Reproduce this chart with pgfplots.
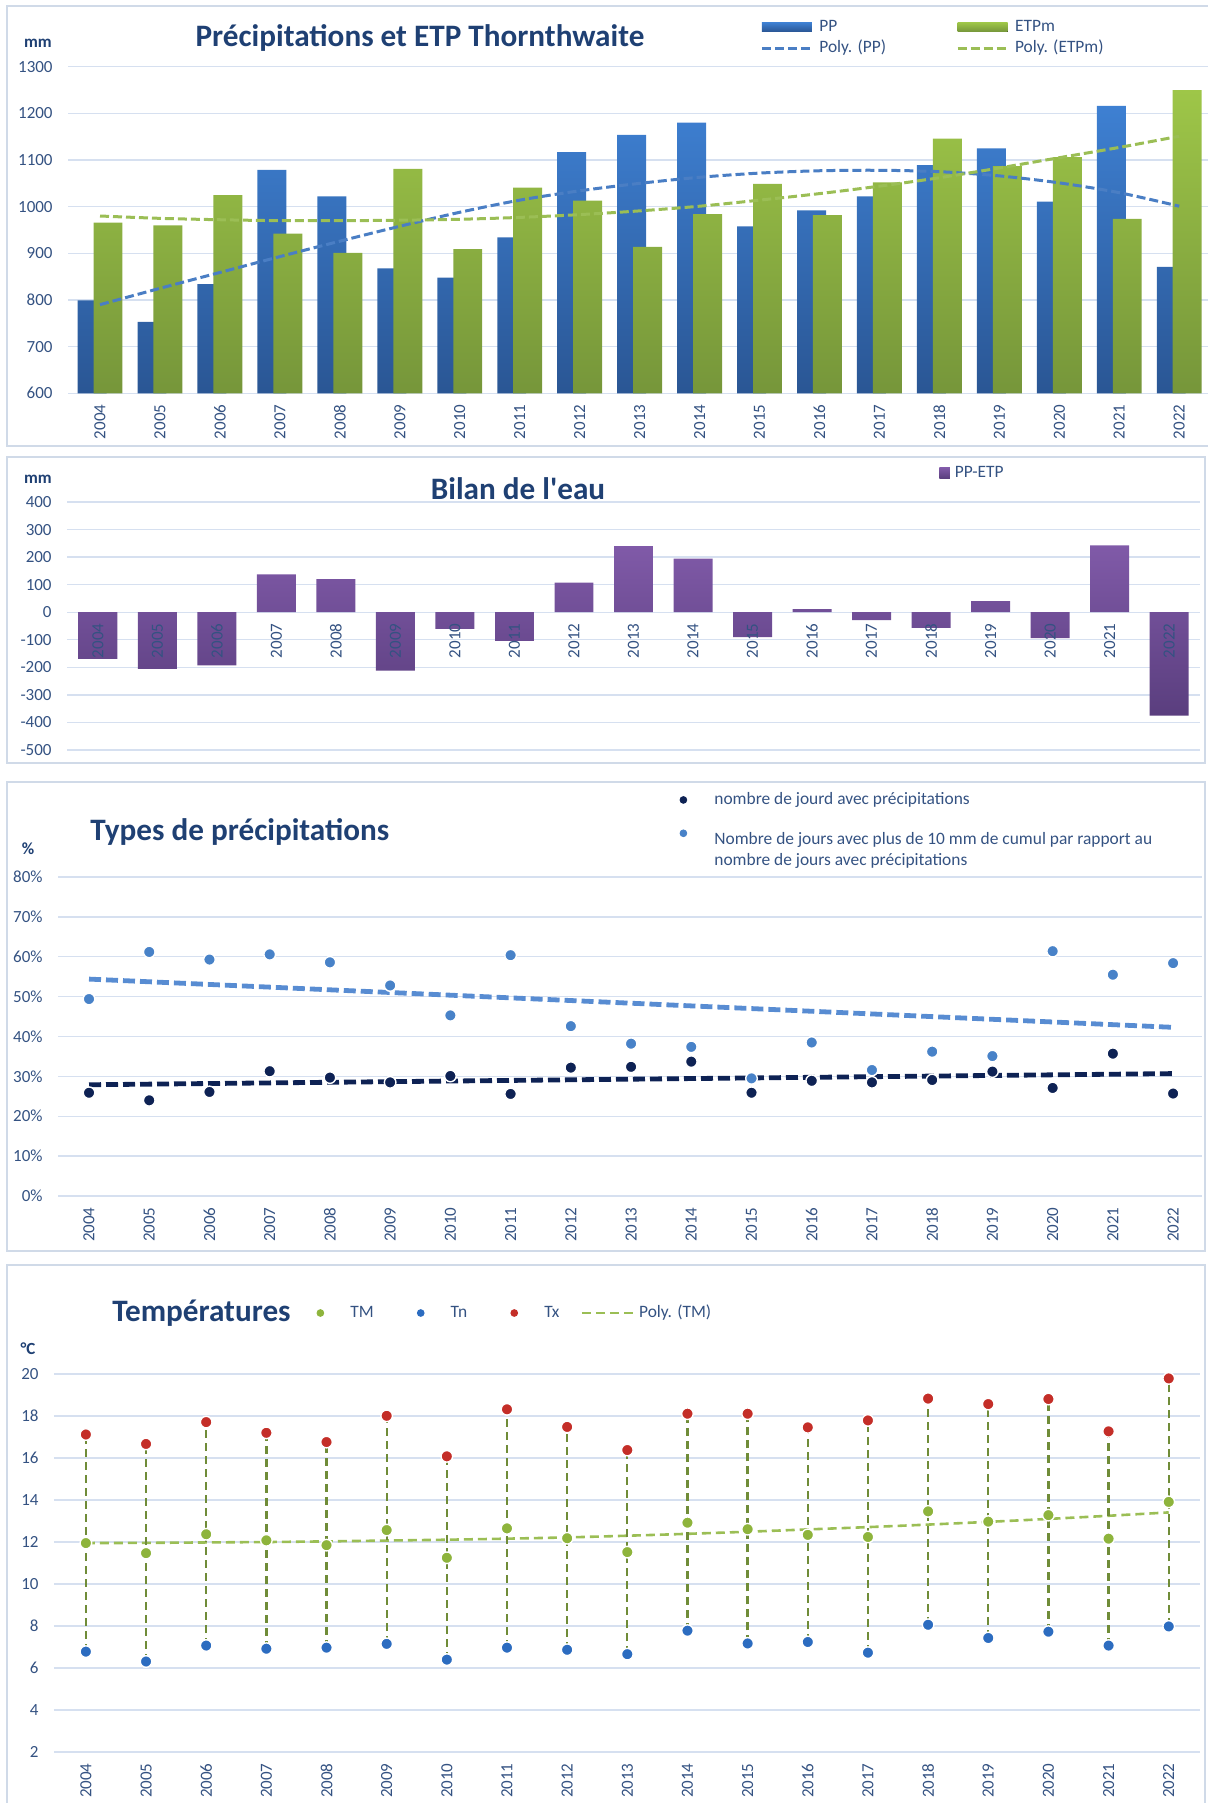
\documentclass[border=0pt]{standalone}
\usepackage{pgfplots}
\pgfplotsset{compat=1.18}
\usepackage{pgfplotstable}
\usepackage{fontspec}
\setmainfont{Carlito}

\definecolor{titleC}{RGB}{31,64,115}
\definecolor{tickC}{RGB}{52,82,130}
\definecolor{gridC}{RGB}{214,224,240}
\definecolor{frameC}{RGB}{208,218,232}
\definecolor{ppTop}{RGB}{62,128,210}
\definecolor{ppBot}{RGB}{42,86,148}
\definecolor{etTop}{RGB}{158,198,72}
\definecolor{etBot}{RGB}{118,150,58}
\definecolor{ppTr}{RGB}{74,126,196}
\definecolor{etTr}{RGB}{155,190,85}
\definecolor{biTop}{RGB}{128,90,168}
\definecolor{biBot}{RGB}{90,62,126}
\definecolor{navyC}{RGB}{14,34,84}
\definecolor{lblueC}{RGB}{72,130,200}
\definecolor{lblueTr}{RGB}{88,140,210}
\definecolor{txC}{RGB}{196,46,40}
\definecolor{tmC}{RGB}{142,180,60}
\definecolor{tnC}{RGB}{44,108,192}
\definecolor{hlC}{RGB}{112,140,56}

\pgfplotstableread{
x PP ETP bilan polyPP polyETP
0 799 966 -169 790 980
1 753 960 -206 825 975
2 834 1025 -193 859 972
3 1079 942 137 893 970
4 1022 901 120 926 970
5 868 1081 -212 958 971
6 848 909 -60 988 973
7 934 1041 -104 1014 977
8 1117 1013 107 1034 983
9 1154 914 240 1050 991
10 1180 984 195 1063 1001
11 958 1049 -90 1072 1014
12 992 982 11 1077 1028
13 1022 1052 -29 1078 1044
14 1089 1146 -57 1075 1062
15 1125 1087 40 1066 1083
16 1011 1106 -94 1051 1105
17 1216 974 243 1030 1127
18 871 1250 -375 1001 1151
}\dataA

\pgfplotstableread{
x jours dix
0 25.9 49.4
1 24.0 61.2
2 26.1 59.3
3 31.3 60.6
4 29.7 58.6
5 28.5 52.8
6 30.1 45.3
7 25.6 60.4
8 32.2 42.6
9 32.4 38.2
10 33.7 37.4
11 25.9 29.5
12 28.9 38.5
13 28.5 31.6
14 29.1 36.2
15 31.2 35.1
16 27.1 61.4
17 35.7 55.5
18 25.7 58.4
}\dataB

\pgfplotstableread{
x TM Tn Tx poly
0 11.95 6.78 17.12 11.95
1 11.47 6.31 16.67 11.96
2 12.37 7.07 17.71 11.98
3 12.08 6.92 17.20 12.00
4 11.85 6.97 16.76 12.03
5 12.57 7.15 18.01 12.07
6 11.25 6.40 16.08 12.11
7 12.65 6.97 18.32 12.16
8 12.18 6.87 17.48 12.22
9 11.52 6.66 16.38 12.30
10 12.92 7.78 18.11 12.39
11 12.61 7.17 18.11 12.49
12 12.34 7.24 17.46 12.60
13 12.24 6.73 17.79 12.71
14 13.46 8.06 18.83 12.83
15 12.97 7.43 18.57 12.96
16 13.28 7.73 18.81 13.10
17 12.16 7.07 17.27 13.25
18 13.91 7.98 19.79 13.41
}\dataC

\pgfplotsset{
  panel/.style={
    scale only axis, anchor=south west,
    axis line style={draw=none}, tick style={draw=none}, major tick length=0pt,
    ymajorgrids, grid style={gridC, line width=0.7pt},
    xtick={0,...,18},
    xticklabels={2004,2005,2006,2007,2008,2009,2010,2011,2012,2013,2014,2015,2016,2017,2018,2019,2020,2021,2022},
    xticklabel style={rotate=90, anchor=east, inner sep=0pt, font=\fontsize{8.5}{10}\selectfont, text=tickC},
    xticklabel shift=5.5pt,
    yticklabel style={anchor=east, inner sep=0pt, font=\fontsize{8.5}{10}\selectfont, text=tickC},
    yticklabel shift=7.5pt,
    legend cell align=left,
    legend style={draw=none, fill=none, inner sep=0pt, font=\fontsize{8.7}{10.5}\selectfont, text=tickC, nodes={inner sep=0pt}},
  },
  dotstyle/.style={only marks, mark=*, mark size=2.9pt, mark options={fill=#1, draw=white, line width=0.7pt}},
  dotleg/.style={legend image code/.code={\path[draw=none,fill=none] (0pt,0pt) -- (26pt,0pt); \fill[#1] (13pt,0pt) circle (1.7pt);}},
}
\tikzset{ttl/.style={font=\fontsize{15.6}{18}\selectfont\bfseries, text=titleC, inner sep=0pt},
  unit/.style={font=\fontsize{8.5}{10}\selectfont\bfseries, text=titleC, inner sep=0pt}}

\begin{document}
\begin{tikzpicture}
\path[use as bounding box] (0pt,0pt) rectangle (604pt,-901.5pt);
% frames
\draw[frameC, line width=1pt] (3.5pt,-3pt) rectangle (607pt,-223pt);
\draw[frameC, line width=1pt] (3.5pt,-228.5pt) rectangle (602.5pt,-381.5pt);
\draw[frameC, line width=1pt] (3.5pt,-391pt) rectangle (602.5pt,-625.5pt);
\draw[frameC, line width=1pt] (3.5pt,-632.5pt) rectangle (602.5pt,-910pt);
% titles
\node[ttl] at (210pt,-19pt) {Précipitations et ETP Thornthwaite};
\node[unit] at (19pt,-21.5pt) {mm};
\node[ttl] at (259pt,-244.5pt) {Bilan de l\textquotesingle eau};
\node[unit] at (19pt,-239.5pt) {mm};
\node[ttl, anchor=west] at (45pt,-416pt) {Types de précipitations};
\node[unit] at (14pt,-424.5pt) {\%};
\node[ttl, anchor=west] at (56pt,-656.5pt) {Températures};
\node[unit] at (14pt,-674.5pt) {°C};

% ---------- Panel 1
\begin{axis}[panel, at={(34pt,-196.65pt)}, width=570pt, height=163.3pt,
  xmin=-0.534, xmax=18.48, ymin=0, ymax=700,
  ytick={0,100,...,700}, yticklabels={600,700,800,900,1000,1100,1200,1300},
  legend columns=2,
  legend style={at={(0.607,1.088)}, anchor=west, row sep=3pt,
    /tikz/every odd column/.append style={column sep=3pt},
    /tikz/every even column/.append style={column sep=35pt}}]
\addplot[ybar, bar width=0.483, bar shift=-0.133, draw=none, top color=ppTop, bottom color=ppBot,
  legend image code/.code={\fill[top color=ppTop, bottom color=ppBot] (0pt,-2.3pt) rectangle (25pt,2.3pt);}]
  table[x=x, y expr=\thisrow{PP}-600] {\dataA};
\addlegendentry{PP}
\addplot[ybar, bar width=0.483, bar shift=0.133, draw=none, top color=etTop, bottom color=etBot,
  legend image code/.code={\fill[top color=etTop, bottom color=etBot] (0pt,-2.3pt) rectangle (25pt,2.3pt);}]
  table[x=x, y expr=\thisrow{ETP}-600] {\dataA};
\addlegendentry{ETPm}
\addplot[ppTr, line width=1.5pt, dash pattern=on 4.5pt off 2pt, smooth, mark=none,
  legend image code/.code={\draw[ppTr, line width=1.5pt, dash pattern=on 4.5pt off 2pt] (0pt,0pt) -- (25pt,0pt);}]
  table[x=x, y expr=\thisrow{polyPP}-600] {\dataA};
\addlegendentry{Poly. (PP)}
\addplot[etTr, line width=1.5pt, dash pattern=on 4.5pt off 2pt, smooth, mark=none,
  legend image code/.code={\draw[etTr, line width=1.5pt, dash pattern=on 4.5pt off 2pt] (0pt,0pt) -- (25pt,0pt);}]
  table[x=x, y expr=\thisrow{polyETP}-600] {\dataA};
\addlegendentry{Poly. (ETPm)}
\end{axis}

% ---------- Panel 2
\begin{axis}[panel, at={(33.5pt,-375pt)}, width=566.5pt, height=124pt,
  xmin=-0.52, xmax=18.52, ymin=-500, ymax=400, xtick=\empty,
  ytick={-500,-400,...,400}, yticklabels={-500,-400,-300,-200,-100,0,100,200,300,400},
  legend style={at={(0.7696,1.117)}, anchor=west,
    /tikz/every odd column/.append style={column sep=2.5pt}}]
\addplot[ybar, bar width=0.655, draw=none, top color=biTop, bottom color=biBot,
  legend image code/.code={\fill[biTop!70!biBot] (0pt,-2.6pt) rectangle (5.2pt,2.6pt);}]
  table[x=x, y=bilan] {\dataA};
\addlegendentry{PP-ETP}
\end{axis}
\begin{axis}[panel, at={(33.5pt,-306.1pt)}, width=566.5pt, height=55.1pt,
  xmin=-0.52, xmax=18.52, ymin=0, ymax=1, ytick=\empty, ymajorgrids=false]
\end{axis}

% ---------- Panel 3
\begin{axis}[panel, at={(29pt,-598pt)}, width=572pt, height=159.5pt,
  xmin=-0.515, xmax=18.48, ymin=0, ymax=80,
  ytick={0,10,...,80}, yticklabels={0\%,10\%,20\%,30\%,40\%,50\%,60\%,70\%,80\%},
  legend style={at={(0.5236,1.2665)}, anchor=north west, row sep=11pt,
    /tikz/every odd column/.append style={column sep=2.5pt}}]
\addplot[dotstyle=navyC, dotleg=navyC]
  table[x=x, y=jours] {\dataB};
\addlegendentry{nombre de jourd avec précipitations}
\addplot[dotstyle=lblueC, legend image code/.code={\path[draw=none,fill=none] (0pt,0pt) -- (26pt,0pt); \fill[lblueC] (13pt,5.25pt) circle (1.7pt);}]
  table[x=x, y=dix] {\dataB};
\addlegendentry{\begin{tabular}{@{}l@{}}Nombre de jours avec plus de 10 mm de cumul par rapport au\\nombre de jours avec précipitations\end{tabular}}
\addplot[forget plot, lblueTr, line width=2.4pt, dash pattern=on 6pt off 2.5pt] coordinates {(0,54.4) (18,42.3)};
\addplot[forget plot, navyC, line width=2.4pt, dash pattern=on 6pt off 2.5pt] coordinates {(0,27.9) (18,30.7)};
\end{axis}

% ---------- Panel 4
\begin{axis}[panel, at={(27pt,-876pt)}, width=573pt, height=189pt,
  xmin=-0.53, xmax=18.52, ymin=2, ymax=20,
  ytick={2,4,...,20}, yticklabels={2,4,6,8,10,12,14,16,18,20},
  legend columns=-1,
  legend style={at={(0.2094,1.1614)}, anchor=west,
    /tikz/every odd column/.append style={column sep=2pt},
    /tikz/every even column/.append style={column sep=10.5pt}}]
\addplot[forget plot, etTr, line width=1.3pt, dash pattern=on 4.5pt off 2.5pt, smooth, mark=none]
  table[x=x, y=poly] {\dataC};
\addplot[forget plot, only marks, mark=none,
  error bars/.cd, y dir=plus, y explicit, error mark=none,
  error bar style={draw=hlC, line width=1.15pt, dash pattern=on 4pt off 2.5pt}]
  table[x=x, y=Tn, y error expr=\thisrow{Tx}-\thisrow{Tn}] {\dataC};
\addplot[dotstyle=tmC, dotleg=tmC] table[x=x, y=TM] {\dataC};
\addlegendentry{TM}
\addplot[dotstyle=tnC, dotleg=tnC] table[x=x, y=Tn] {\dataC};
\addlegendentry{Tn}
\addplot[dotstyle=txC, dotleg=txC] table[x=x, y=Tx] {\dataC};
\addlegendentry{Tx}
\addlegendimage{legend image code/.code={\draw[etTr, line width=1.3pt, dash pattern=on 4.5pt off 2.5pt] (0pt,0pt) -- (26pt,0pt);}}
\addlegendentry{Poly. (TM)}
\end{axis}
\end{tikzpicture}
\end{document}
